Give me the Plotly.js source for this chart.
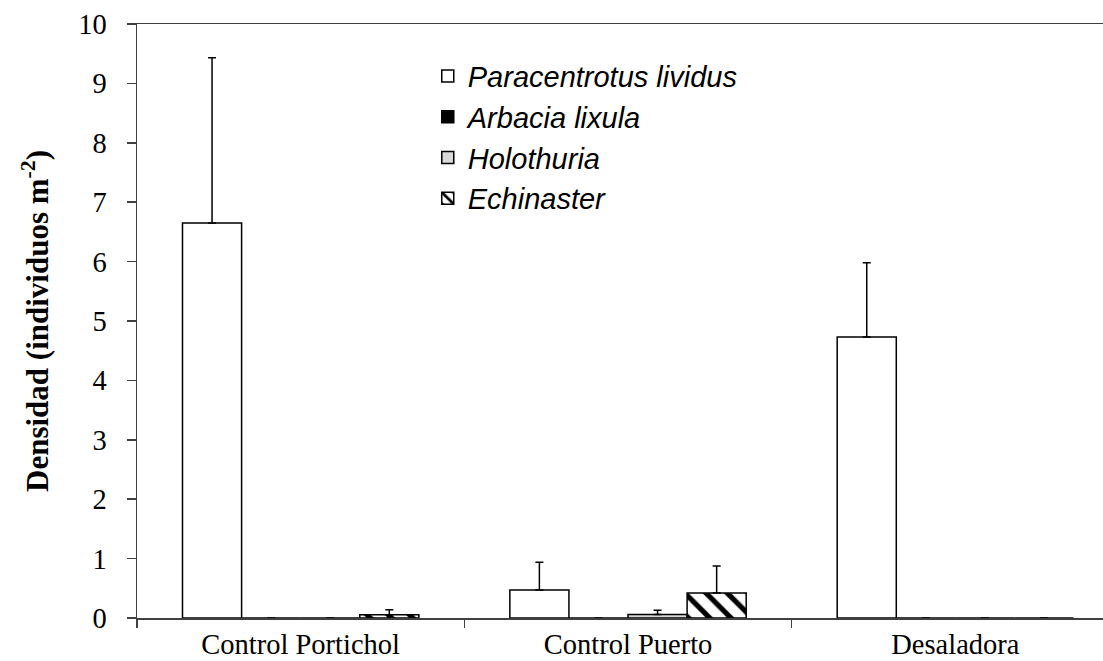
<!DOCTYPE html>
<html>
<head>
<meta charset="utf-8">
<script src="https://cdn.plot.ly/plotly-3.0.1.min.js"></script>
<style>
html,body{margin:0;padding:0;background:#fff;overflow:hidden;}
#chart{width:1103px;height:661px;}
</style>
</head>
<body>
<div id="chart"></div>
<script>
const categories = ["Control Portichol", "Control Puerto", "Desaladora"];
const speciesNames = ["Paracentrotus lividus", "Arbacia lixula", "Holothuria", "Echinaster"];
const paracentrotus = [6.65, 0.47, 4.73];
const paracentrotusErr = [2.78, 0.47, 1.25];
const arbacia = [0, 0, 0];
const arbaciaErr = [0, 0, 0];
const holothuria = [0, 0.06, 0];
const holothuriaErr = [0, 0.07, 0];
const echinaster = [0.055, 0.42, 0];
const echinasterErr = [0.085, 0.455, 0];
const yTicks = [0,1,2,3,4,5,6,7,8,9,10];

const seriesValues = [paracentrotus, arbacia, holothuria, echinaster];
const seriesErrors = [paracentrotusErr, arbaciaErr, holothuriaErr, echinasterErr];
const fills = ["#ffffff", "#000000", "#d9d9d9", "#ffffff"];

const traces = speciesNames.map((name, i) => {
  const t = {
    type: "bar",
    name: name,
    x: categories,
    y: seriesValues[i],
    legendgroup: "g" + i,
    marker: {
      color: fills[i],
      line: {color: "#000000", width: 1.5}
    },
    error_y: {
      type: "data",
      symmetric: false,
      array: seriesErrors[i].map(v => v > 0 ? v : null),
      arrayminus: seriesErrors[i].map(() => 0),
      color: "#000000",
      thickness: 1.5,
      width: 4,
      visible: true
    }
  };
  if (i === 3) {
    t.marker.pattern = {shape: "\\", fgcolor: "#000000", bgcolor: "#ffffff", fgopacity: 1, size: 15, solidity: 0.35, fillmode: "replace"};
  }
  return t;
});

const serif = "Liberation Serif, Times New Roman, serif";

const layout = {
  width: 1103,
  height: 661,
  margin: {l: 137, r: 0, t: 24, b: 43},
  paper_bgcolor: "#ffffff",
  plot_bgcolor: "#ffffff",
  barmode: "group",
  bargap: 0.278,
  bargroupgap: 0,
  showlegend: true,
  legend: {
    x: 0.301, y: 0.955, xanchor: "left", yanchor: "top",
    font: {family: "Liberation Sans, Arial, sans-serif", size: 29, style: "italic", color: "#000000"},
    tracegroupgap: 0,
    bgcolor: "rgba(0,0,0,0)",
    traceorder: "grouped"
  },
  xaxis: {
    type: "category",
    range: [-0.5, 2.451],
    showline: true, linecolor: "#404040", linewidth: 1.5,
    mirror: true,
    ticks: "outside", tickson: "boundaries", ticklen: 8, tickcolor: "#404040", tickwidth: 1.5,
    tickfont: {family: serif, size: 28.5, color: "#000000"},
    showgrid: false, zeroline: false,
    automargin: false,
    fixedrange: true
  },
  yaxis: {
    range: [0, 10],
    tickvals: yTicks,
    ticktext: yTicks.map(String),
    showline: true, linecolor: "#404040", linewidth: 1.5,
    ticks: "outside", ticklen: 9, tickcolor: "#404040", tickwidth: 1.5,
    ticklabelstandoff: 14,
    tickfont: {family: serif, size: 28.5, color: "#000000"},
    showgrid: false, zeroline: false,
    automargin: false,
    title: {
      text: "Densidad (individuos m<sup>-2</sup>)",
      font: {family: serif, size: 31, weight: "bold", color: "#000000"},
      standoff: 20
    },
    fixedrange: true
  }
};

Plotly.newPlot("chart", traces, layout, {displayModeBar: false, staticPlot: true});
</script>
</body>
</html>
